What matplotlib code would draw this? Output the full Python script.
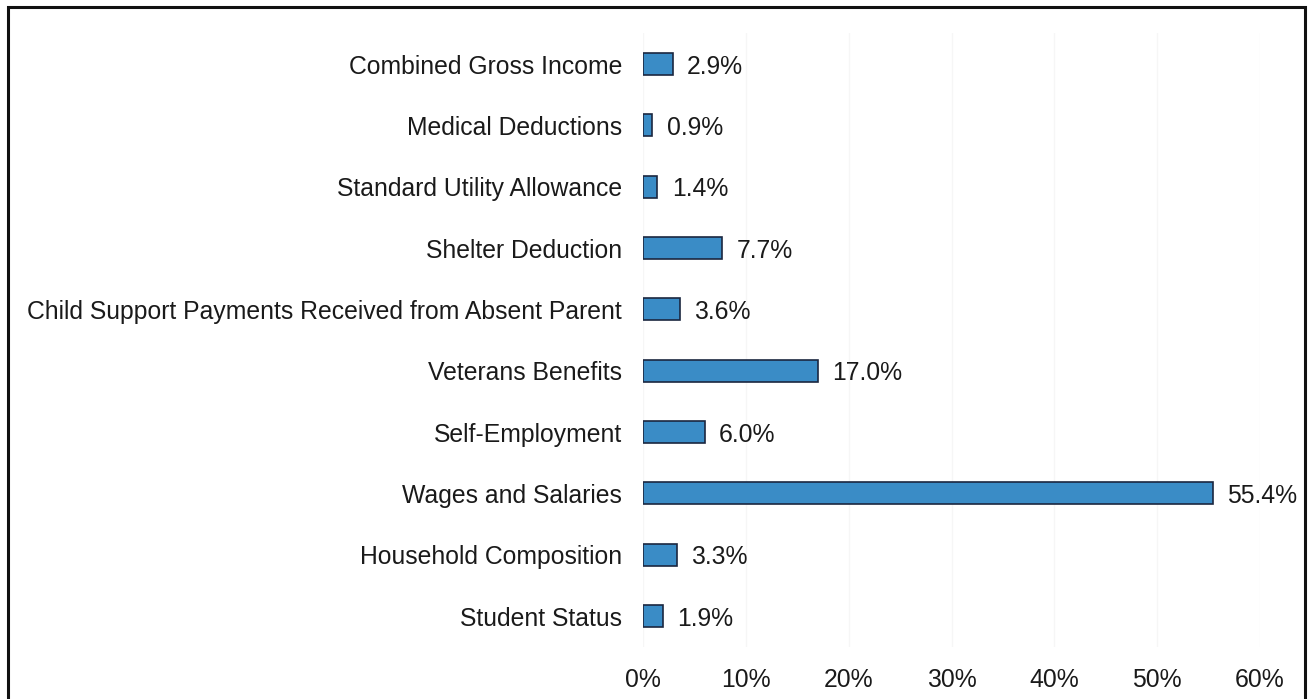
import matplotlib.pyplot as plt
from matplotlib.patches import Rectangle
from matplotlib.ticker import FuncFormatter

plt.rcParams['font.family'] = ['Liberation Sans', 'DejaVu Sans']

categories = ["Combined Gross Income", "Medical Deductions", "Standard Utility Allowance",
              "Shelter Deduction", "Child Support Payments Received from Absent Parent",
              "Veterans Benefits", "Self-Employment", "Wages and Salaries",
              "Household Composition", "Student Status"]
values = [2.9, 0.9, 1.4, 7.7, 3.6, 17.0, 6.0, 55.4, 3.3, 1.9]
xticks = [0, 10, 20, 30, 40, 50, 60]

fig = plt.figure(figsize=(13.08, 6.99), dpi=100)
ax = fig.add_axes([0.4916, 0.0748, 0.4717, 0.8775])

ypos = list(range(len(categories)))[::-1]
ax.barh(ypos, values, height=0.36, color="#3a8cc6", edgecolor="#1b2740", linewidth=1.2)

for y, v in zip(ypos, values):
    ax.text(v + 1.4, y, f"{v:.1f}%", va="center_baseline", ha="left", fontsize=17.8, color="#1a1a1a")

ax.set_xlim(0, 60)
ax.set_ylim(-0.5, len(categories) - 0.5)
ax.set_yticks(ypos)
ax.set_yticklabels(categories, fontsize=17.8, color="#1a1a1a")
ax.set_xticks(xticks)
ax.xaxis.set_major_formatter(FuncFormatter(lambda x, p: f"{x:.0f}%"))
ax.tick_params(axis="x", labelsize=17.8, labelcolor="#1a1a1a", length=0, pad=15)
ax.tick_params(axis="y", length=0, pad=15)
for s in ax.spines.values():
    s.set_visible(False)
ax.grid(axis="x", color="#f6f6f6", linewidth=1)
ax.set_axisbelow(True)

# outer frame, open at the bottom edge
fig.patches.append(Rectangle((8 / 1308, -0.1), 1297 / 1308, 1.1 - 7 / 699, transform=fig.transFigure,
                             fill=False, edgecolor="#111111", linewidth=2.2))

fig.savefig("out.png", dpi=100)
